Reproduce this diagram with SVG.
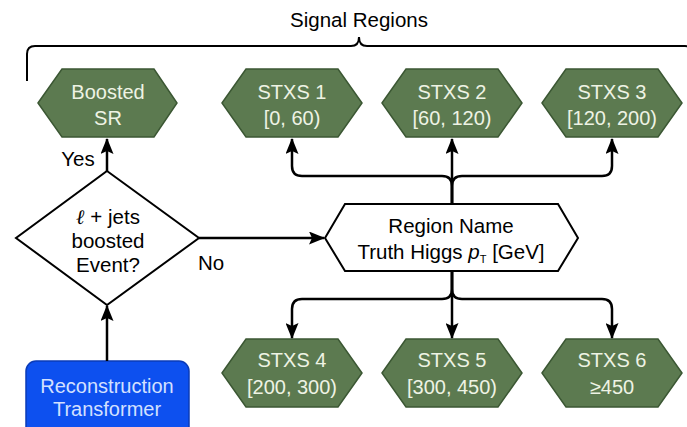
<svg xmlns="http://www.w3.org/2000/svg" width="687" height="427" viewBox="0 0 687 427">
<defs>
<marker id="ah" viewBox="0 0 16 13" refX="15" refY="6.5" markerWidth="16" markerHeight="13" markerUnits="userSpaceOnUse" orient="auto">
<path d="M0,0 L16,6.5 L0,13 L3,6.5 Z" fill="#000"/>
</marker>
<style>
text{font-family:"Liberation Sans",Arial,sans-serif;text-anchor:middle}
.sr{fill:#5c7a50;stroke:#3b5733;stroke-width:1.5}
.srt{fill:#eef3e4;font-size:20px}
.wh{fill:#fff;stroke:#000;stroke-width:2}
.bt{fill:#000;font-size:20.5px}
.con{fill:none;stroke:#000;stroke-width:2.5}
</style>
</defs>
<rect width="687" height="427" fill="#fff"/>
<g id="title">
<text x="359" y="27" class="bt" font-size="19.5">Signal Regions</text>
<path d="M27,81 V54 Q27,46 35,46 H351 Q359,46 359,37 Q359,46 367,46 H685 Q693,46 693,54 V81" fill="none" stroke="#000" stroke-width="2"/>
</g>
<g id="boosted-sr">
<polygon class="sr" points="38,103 62,69 154,69 177,103 154,137 62,137"/>
<text class="srt" x="108" y="99">Boosted</text>
<text class="srt" x="108" y="125">SR</text>
</g>
<g id="stxs1">
<polygon class="sr" points="222,103 246,69 338,69 362,103 338,137 246,137"/>
<text class="srt" x="292" y="99">STXS 1</text>
<text class="srt" x="292" y="125">[0, 60)</text>
</g>
<g id="stxs2">
<polygon class="sr" points="382,103 406,69 498,69 522,103 498,137 406,137"/>
<text class="srt" x="452" y="99">STXS 2</text>
<text class="srt" x="452" y="125">[60, 120)</text>
</g>
<g id="stxs3">
<polygon class="sr" points="542,103 566,69 658,69 682,103 658,137 566,137"/>
<text class="srt" x="612" y="99">STXS 3</text>
<text class="srt" x="612" y="125">[120, 200)</text>
</g>
<g id="stxs4">
<polygon class="sr" points="222,373 246,339 338,339 362,373 338,407 246,407"/>
<text class="srt" x="292" y="367">STXS 4</text>
<text class="srt" x="292" y="394">[200, 300)</text>
</g>
<g id="stxs5">
<polygon class="sr" points="382,373 406,339 498,339 522,373 498,407 406,407"/>
<text class="srt" x="452" y="367">STXS 5</text>
<text class="srt" x="452" y="394">[300, 450)</text>
</g>
<g id="stxs6">
<polygon class="sr" points="542,373 566,339 658,339 682,373 658,407 566,407"/>
<text class="srt" x="612" y="367">STXS 6</text>
<text class="srt" x="612" y="394">≥450</text>
</g>
<g id="decision">
<polygon class="wh" points="107,171 199,238 107,305 16,238"/>
<text class="bt" x="108" y="224"><tspan font-style="italic" font-family="'Liberation Serif',serif">ℓ</tspan> + jets</text>
<text class="bt" x="108" y="248">boosted</text>
<text class="bt" x="108" y="272">Event?</text>
</g>
<g id="region">
<polygon class="wh" points="325,238 345,204 558,204 578,238 558,271 345,271"/>
<text class="bt" x="451" y="233" font-size="21">Region Name</text>
<text class="bt" x="451" y="259" font-size="21">Truth Higgs <tspan font-style="italic">p</tspan><tspan font-size="11" dy="4">T</tspan><tspan dy="-4"> [GeV]</tspan></text>
</g>
<g id="reco">
<rect x="26" y="361" width="163" height="80" rx="10" fill="#0d50ef" stroke="#0a3bb8" stroke-width="1.5"/>
<text x="107" y="393" fill="#d3e0ff" font-size="20">Reconstruction</text>
<text x="107" y="416" fill="#d3e0ff" font-size="20">Transformer</text>
</g>
<g id="connectors">
<path class="con" d="M107,361 V306" marker-end="url(#ah)"/>
<path class="con" d="M107,171 V139" marker-end="url(#ah)"/>
<path class="con" d="M199,238 H324" marker-end="url(#ah)"/>
<path class="con" d="M452,204 V139" marker-end="url(#ah)"/>
<path class="con" d="M452,204 V186 Q452,176 442,176 H302 Q292,176 292,166 V139" marker-end="url(#ah)"/>
<path class="con" d="M452,204 V186 Q452,176 462,176 H602 Q612,176 612,166 V139" marker-end="url(#ah)"/>
<path class="con" d="M452,271 V338" marker-end="url(#ah)"/>
<path class="con" d="M452,271 V289 Q452,299 442,299 H302 Q292,299 292,309 V338" marker-end="url(#ah)"/>
<path class="con" d="M452,271 V289 Q452,299 462,299 H602 Q612,299 612,309 V338" marker-end="url(#ah)"/>
<text class="bt" x="78" y="166" font-size="18">Yes</text>
<text class="bt" x="211" y="270" font-size="18.5">No</text>
</g>
</svg>
